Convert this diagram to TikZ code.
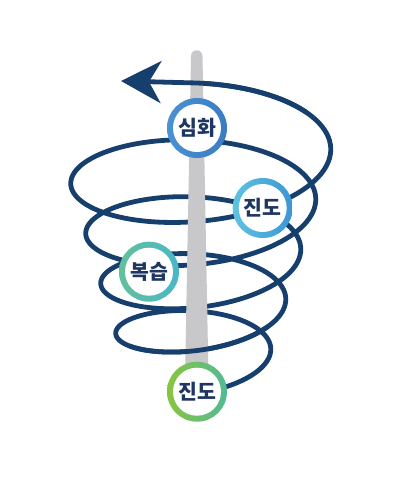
\documentclass[tikz,border=0pt]{standalone}
\usepackage{fontspec}
\newfontfamily\kr{Noto Sans CJK KR}
\usetikzlibrary{arrows.meta}
\definecolor{navy}{HTML}{173F6D}
\definecolor{txtnavy}{HTML}{1F3562}
\definecolor{polegray}{HTML}{C8C8CB}
\definecolor{blueA}{HTML}{4A92D4}
\definecolor{blueB}{HTML}{3A7CC4}
\definecolor{cyanA}{HTML}{5CC4E0}
\definecolor{cyanB}{HTML}{3E95D6}
\definecolor{tealA}{HTML}{62C09C}
\definecolor{tealB}{HTML}{4AB7C9}
\definecolor{limeA}{HTML}{88C540}
\definecolor{limeB}{HTML}{52BB94}
\tikzset{
  spiral/.style={draw=navy, line width=4.8pt, line cap=round, line join=round},
  ring/.style 2 args={circle, minimum size=60pt, inner sep=0pt,
    left color=#1, right color=#2,
    path picture={\fill[white] (path picture bounding box.center) circle (24pt);},
    font=\kr\bfseries\fontsize{20.5}{20.5}\selectfont, text=txtnavy},
}
\begin{document}
\begin{tikzpicture}[x=1pt, y=-1pt]
\useasboundingbox (0,0) rectangle (400,480);
% spiral (behind the pole)
\draw[spiral] plot[domain=0:4.5, samples=500, variable=\t]
  ({197 + (70+15*\t)*sin(360*\t)}, {366.5 - 50*\t + (27+7*\t)*cos(360*\t) - 3.5*sin(360*\t)});
% pole
\fill[polegray] (185,378) -- (191,56) arc[start angle=180, end angle=360, radius=5.75] -- (208.5,378) -- cycle;
% front of the lowest turn, in front of the pole
\draw[spiral] plot[domain=0.85:1.15, samples=80, variable=\t]
  ({197 + (70+15*\t)*sin(360*\t)}, {366.5 - 50*\t + (27+7*\t)*cos(360*\t) - 3.5*sin(360*\t)});
% last part with arrow
\coordinate (tip) at (121,81);
\draw[spiral, -{Stealth[length=40pt, width=42pt, inset=12pt]}] plot[domain=4.35:4.5, samples=40, variable=\t]
  ({197 + (70+15*\t)*sin(360*\t)}, {366.5 - 50*\t + (27+7*\t)*cos(360*\t) - 3.5*sin(360*\t)}) -- (tip);
% nodes
\node[ring={blueA}{blueB}] (simhwa) at (197,128) {심화};
\node[ring={cyanA}{cyanB}] (jindo2) at (262.7,208) {진도};
\node[ring={tealA}{tealB}] (boksup) at (149,271.7) {복습};
\node[ring={limeA}{limeB}] (jindo1) at (197,391.7) {진도};
\end{tikzpicture}
\end{document}
